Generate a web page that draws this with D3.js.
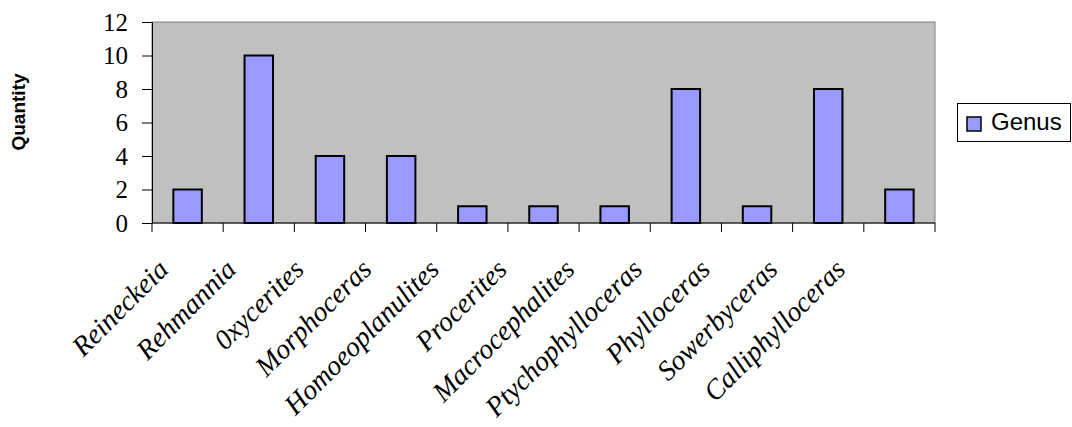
<!DOCTYPE html>
<html><head><meta charset="utf-8">
<script src="https://cdn.jsdelivr.net/npm/d3@7"></script>
<style>body{margin:0;background:#fff}svg{display:block}</style>
</head><body>
<script>
const categories = ["Reineckeia","Rehmannia","0xycerites","Morphoceras","Homoeoplanulites","Procerites","Macrocephalites","Ptychophylloceras","Phylloceras","Sowerbyceras","Calliphylloceras"];
const genusValues = [2,10,4,4,1,1,1,8,1,8,2];
const yTicks = [0,2,4,6,8,10,12];
const seriesName = "Genus";
const yTitle = "Quantity";

const W = 1072, H = 427;
const plot = {l:152, r:935, t:22, b:223};
const svg = d3.select("body").append("svg").attr("width",W).attr("height",H);

const x = d3.scaleBand().domain(categories).range([plot.l, plot.r]).paddingInner(0.6).paddingOuter(0.3);
const xTick = d3.scaleBand().domain(categories).range([plot.l, plot.r]);
const y = d3.scaleLinear().domain([0,12]).range([plot.b, plot.t]);
const labelX = d3.scalePoint().domain(categories).range([170, 847]);

svg.append("rect").attr("x",plot.l).attr("y",plot.t).attr("width",plot.r-plot.l).attr("height",plot.b-plot.t)
  .attr("fill","#c0c0c0").attr("stroke","#808080").attr("stroke-width",1);

svg.selectAll("rect.bar").data(categories).join("rect").attr("class","bar")
  .attr("x",d=>x(d)).attr("width",x.bandwidth())
  .attr("y",(d,i)=>y(genusValues[i])).attr("height",(d,i)=>y(0)-y(genusValues[i]))
  .attr("fill","#9999ff").attr("stroke","#000").attr("stroke-width",2);

// y axis
const yAxis = d3.axisLeft(y).tickValues(yTicks).tickSize(10).tickPadding(14);
const gy = svg.append("g").attr("transform",`translate(${plot.l},0)`).call(yAxis);
gy.select(".domain").attr("stroke","#000");
gy.selectAll("text").attr("font-family","'Liberation Serif','Times New Roman',serif").attr("font-size",25).attr("fill","#000");

// x axis
const xAxis = d3.axisBottom(xTick).tickSize(9).tickFormat("");
const gx = svg.append("g").attr("transform",`translate(0,${plot.b})`).call(xAxis);
gx.select(".domain").attr("stroke","#000").attr("d",`M${plot.l},0H${plot.r}`);
gx.selectAll(".tick").remove();
gx.selectAll("line.tk").data(d3.range(categories.length+1)).join("line").attr("class","tk")
  .attr("x1",i=> i<categories.length ? xTick(categories[i]) : plot.r)
  .attr("x2",i=> i<categories.length ? xTick(categories[i]) : plot.r)
  .attr("y1",0).attr("y2",9).attr("stroke","#000");

svg.selectAll("text.cat").data(categories).join("text").attr("class","cat")
  .attr("transform",d=>`translate(${labelX(d)},271) rotate(-45)`)
  .attr("text-anchor","end")
  .attr("font-family","'Liberation Serif','Times New Roman',serif").attr("font-style","italic")
  .attr("font-size",28).attr("fill","#000").text(d=>d);

svg.append("text").attr("transform",`translate(25,112) rotate(-90)`).attr("text-anchor","middle")
  .attr("font-family","'Liberation Sans',Arial,sans-serif").attr("font-weight","bold").attr("font-size",19)
  .text(yTitle);

// legend
const lg = svg.append("g");
lg.append("rect").attr("x",957.5).attr("y",103.5).attr("width",113).attr("height",38).attr("fill","#fff").attr("stroke","#000");
lg.append("rect").attr("x",967).attr("y",117).attr("width",14).attr("height",14).attr("fill","#9999ff").attr("stroke","#000").attr("stroke-width",1.5);
lg.append("text").attr("x",991).attr("y",130).attr("font-family","'Liberation Sans',Arial,sans-serif").attr("font-size",24).text(seriesName);
</script>
</body></html>
